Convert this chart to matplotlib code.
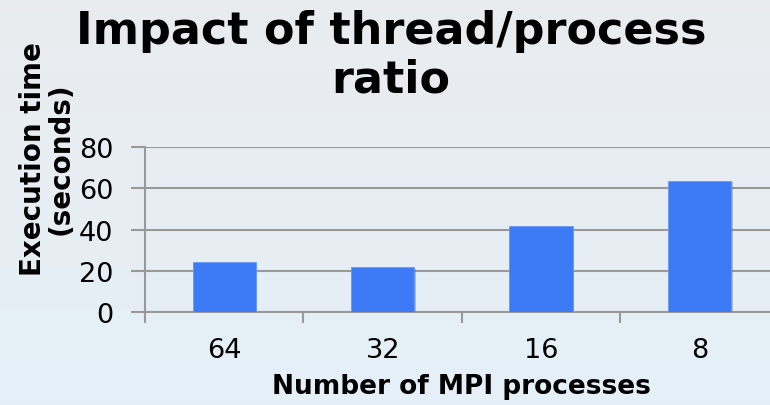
import numpy as np
import matplotlib
matplotlib.use("Agg")
import matplotlib.pyplot as plt
import matplotlib.patheffects as pe

categories = ["64", "32", "16", "8"]
exec_times = [24.1, 21.7, 41.8, 63.7]
y_ticks = [0, 20, 40, 60, 80]

plt.rcParams["font.family"] = "DejaVu Sans"

fig = plt.figure(figsize=(7.7, 4.06), dpi=100)

# background gradient (grey at top -> light blue at bottom)
bg = fig.add_axes([0, 0, 1, 1], zorder=-10)
top = np.array([0.918, 0.925, 0.937])
bottom = np.array([0.894, 0.941, 0.973])
grad = np.linspace(0, 1, 256)[:, None, None]
img = top * (1 - grad) + bottom * grad
bg.imshow(np.repeat(img, 2, axis=1), aspect="auto", extent=[0, 1, 0, 1])
bg.axis("off")

ax = fig.add_axes([0.1883, 0.229, 0.823, 0.4064])
ax.patch.set_alpha(0)
x = np.arange(len(categories))
bars = ax.bar(x, exec_times, width=0.4, color="#3d7af5", edgecolor="#6a98f2",
              linewidth=0.6, zorder=3)
for b in bars:
    b.set_path_effects([pe.SimplePatchShadow(offset=(1, -1), shadow_rgbFace="#555555", alpha=0.35),
                        pe.Normal()])

ax.set_xlim(-0.5, len(categories) - 0.5)
ax.set_ylim(0, 80)
ax.set_yticks(y_ticks)
ax.yaxis.grid(True, color="#999999", linewidth=1.5, zorder=0)
ax.set_axisbelow(True)

ax.set_xticks(x)
ax.set_xticklabels(categories)
ax.set_xticks(np.arange(-0.5, len(categories)), minor=True)
ax.tick_params(axis="x", which="major", length=0, pad=18, labelsize=19.5)
ax.tick_params(axis="x", which="minor", length=8, width=1.5, color="#999999", direction="out")
ax.tick_params(axis="y", length=10, width=1.5, color="#999999", pad=13, labelsize=19.5)

for s in ["top", "right"]:
    ax.spines[s].set_visible(False)
for s in ["left", "bottom"]:
    ax.spines[s].set_color("#999999")
    ax.spines[s].set_linewidth(1.5)

ax.set_xlabel("Number of MPI processes", fontsize=19, fontweight="bold", labelpad=7)

fig.text(0.508, 0.975, "Impact of thread/process\nratio", ha="center", va="top",
         fontsize=32, fontweight="bold", linespacing=1.15)
fig.text(0.061, 0.608, "Execution time\n(seconds)", ha="center", va="center", rotation=90,
         fontsize=20, fontweight="bold", linespacing=1.0)

fig.savefig("out.png", dpi=100)
